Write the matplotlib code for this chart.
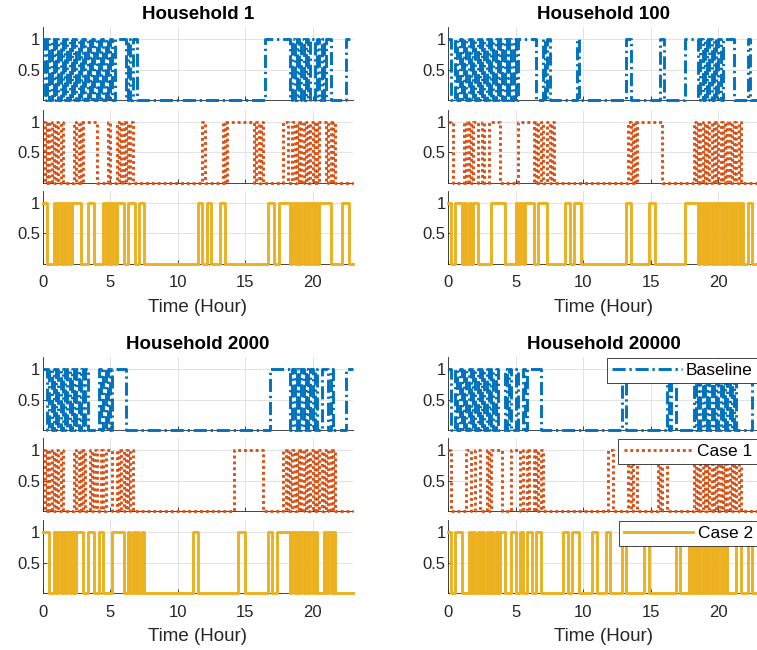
import matplotlib.pyplot as plt
import numpy as np

plt.rcParams['font.family'] = ['Liberation Sans', 'DejaVu Sans']

STEPS_PER_HOUR = 6  # 10-minute slots
T_END = 23

households = ["Household 1", "Household 100", "Household 2000", "Household 20000"]
cases = ["Baseline", "Case 1", "Case 2"]
x_ticks = [0, 5, 10, 15, 20]
y_ticks = [0.5, 1]

# appliance on/off state per 10-minute slot, one block of six per hour
hh1_baseline = ("101010 101010 101010 101010 101010 101111 101011 000000 000000 000000 000000 000000 "
                "000000 000000 000000 000000 000111 111111 110101 010101 101010 110000 000111")
hh1_case1 = ("101010 101000 001010 111111 000001 000101 010100 000000 000000 000000 000000 000001 "
             "000000 001011 111111 111101 010000 000001 100101 010101 010111 010100 000000")
hh1_case2 = ("110001 010101 011110 001110 000101 010111 001110 011000 000000 000000 000000 000110 "
             "011000 011000 000000 000000 000011 100111 110101 010101 010111 110000 011100")

hh100_baseline = ("100101 010101 010101 010101 010101 011111 111000 101000 000000 000100 000000 000000 "
                  "000000 011000 000000 000011 000000 000111 111010 101010 101111 100000 010000")
hh100_case1 = ("110000 010101 100100 111110 000000 011111 110101 001010 000000 000000 000000 000000 "
               "000000 001010 111111 111110 000000 000000 010101 010101 010101 010100 000000")
hh100_case2 = ("100111 010101 100000 011111 100000 101011 110011 110000 000011 001110 000000 000000 "
               "000000 011000 000001 110000 000000 000111 111010 101010 101010 101010 011000")

hh2000_baseline = ("110101 010101 010101 010000 010101 011111 100000 000000 000000 000000 000000 000000 "
                   "000000 000000 000000 000000 000001 111111 110101 010101 010011 101000 000111")
hh2000_case1 = ("101010 101000 001010 100101 001011 100101 010100 000000 000000 000000 000000 000000 "
                "000000 000000 011111 111111 110000 000001 010101 010101 010101 010100 000000")
hh2000_case2 = ("111001 010101 010111 001110 011000 011111 001010 101000 000000 000000 000000 011000 "
                "000000 000000 000111 000000 000011 001111 110101 010101 010001 010100 000000")

hh20000_baseline = ("100101 010101 010101 010100 010100 100101 111110 000000 000000 000000 000000 000000 "
                    "000001 100000 000000 000000 010110 000000 010101 010101 010101 010000 000111")
hh20000_case1 = ("100000 001100 110001 011111 000011 110110 110101 000000 000000 000000 000000 000001 "
                 "100000 001011 000000 000101 100000 000000 010101 010101 010101 010100 000000")
hh20000_case2 = ("100111 000101 010101 010101 100011 001001 100110 000000 000110 011100 000011 000011 "
                 "000001 100000 000110 000000 000001 100001 010101 010101 010100 001100 011000")

series = [
    [hh1_baseline, hh1_case1, hh1_case2],
    [hh100_baseline, hh100_case1, hh100_case2],
    [hh2000_baseline, hh2000_case1, hh2000_case2],
    [hh20000_baseline, hh20000_case1, hh20000_case2],
]

colors = ["#0072BD", "#D95319", "#EDB120"]
styles = [(0, (4.5, 1.3, 0.8, 1.3)), (0, (1, 1)), "-"]


def to_states(code):
    return np.array([int(c) for c in code.replace(" ", "")], dtype=float)


fig = plt.figure(figsize=(7.57, 6.5), dpi=100)
W, H = 757.0, 650.0
col_left = [42.7, 448.3]
ax_width = 310.5
group_tops = [[27, 109.5, 190.5], [357, 438, 520]]
ax_height = 73.0

for k, name in enumerate(households):
    row, col = divmod(k, 2)
    for j in range(3):
        top = group_tops[row][j]
        ax = fig.add_axes([col_left[col] / W, 1 - (top + ax_height) / H,
                           ax_width / W, ax_height / H])
        states = to_states(series[k][j])
        t = np.arange(len(states) + 1) / STEPS_PER_HOUR
        y = np.append(states, states[-1])
        ax.plot(t, y, drawstyle="steps-post", color=colors[j], linestyle=styles[j],
                linewidth=2.1, clip_on=False, label=cases[j], zorder=3)

        ax.set_xlim(0, T_END)
        ax.set_ylim(0, 1.2)
        ax.set_xticks(x_ticks)
        ax.set_yticks(y_ticks)
        ax.set_yticklabels(["0.5", "1"])
        ax.grid(True, color="#e3e3e3", linewidth=0.7)
        ax.set_axisbelow(True)
        for side in ["top", "right"]:
            ax.spines[side].set_visible(False)
        for side in ["left", "bottom"]:
            ax.spines[side].set_color("#262626")
            ax.spines[side].set_linewidth(0.6)
        ax.tick_params(direction="in", length=3, width=0.6, colors="#262626",
                       labelsize=12, pad=2)
        ax.tick_params(axis="x", pad=8.5)

        if j == 0:
            ax.set_title(name, fontsize=13.5, fontweight="bold", pad=6)
        if j == 2:
            ax.set_xlabel("Time (Hour)", fontsize=13.5, color="#262626", labelpad=6)
        else:
            ax.tick_params(axis="x", labelbottom=False)

        if k == 3:
            leg = ax.legend(loc="upper right", fontsize=12.5, frameon=True, fancybox=False,
                            framealpha=1, edgecolor="#262626", handlelength=4.0,
                            handletextpad=0.25, borderaxespad=0.05, borderpad=0.3)
            leg.get_frame().set_linewidth(0.6)
            leg.set_zorder(5)

fig.savefig("out.png", dpi=100)
